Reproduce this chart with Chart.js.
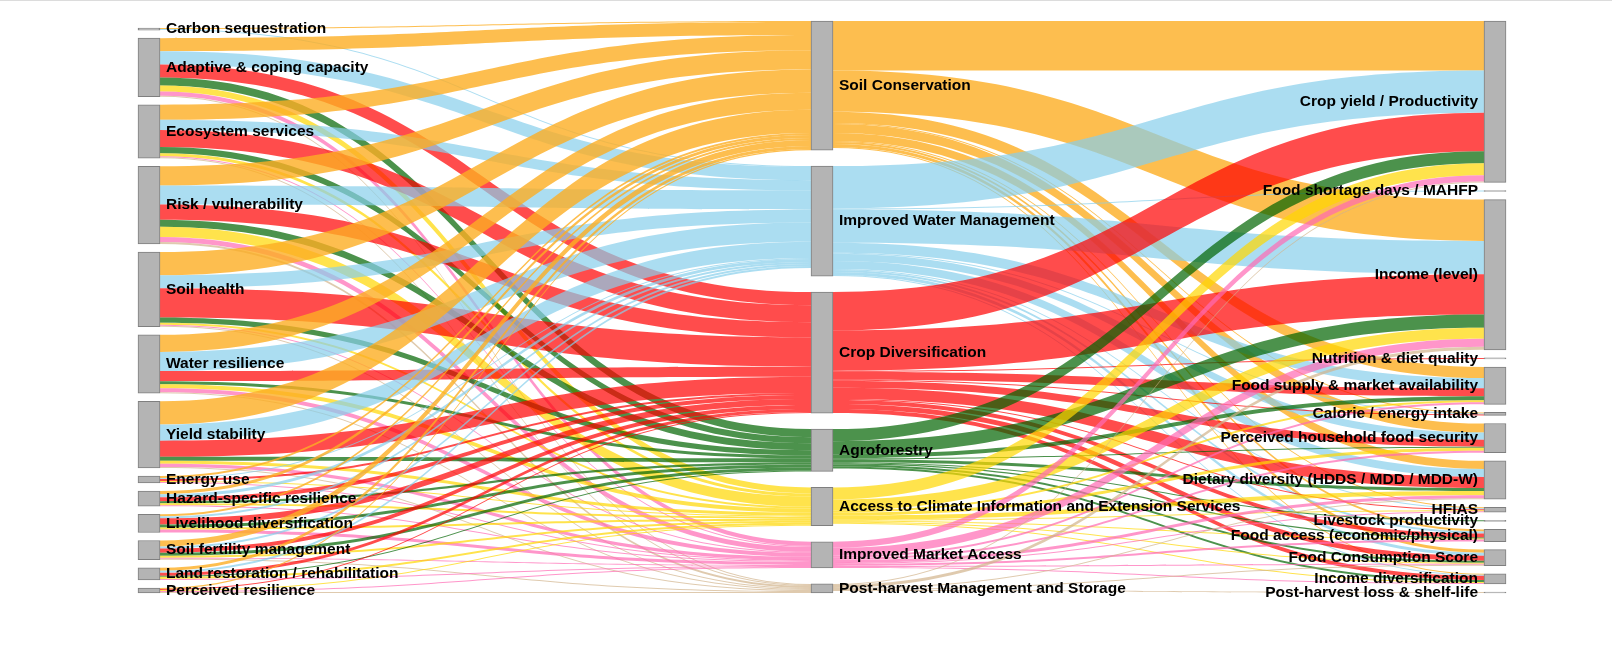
<!DOCTYPE html>
<html>
<head>
<meta charset="utf-8">
<script src="https://cdn.jsdelivr.net/npm/chart.js@4.4.1/dist/chart.umd.min.js"></script>
<style>
  html, body { margin: 0; padding: 0; background: #fff; overflow: hidden; }
  #wrap { position: relative; width: 1623px; height: 648px; }
  #topline { position: absolute; left: 0; top: 0; width: 1612px; height: 1px; background: #dcdcdc; }
</style>
</head>
<body>
<div id="wrap">
  <canvas id="sankey" width="1623" height="648"></canvas>
  <div id="topline"></div>
</div>
<script>
// colunas do diagrama
const resilienceOutcomes = [
  "Carbon sequestration", "Adaptive & coping capacity", "Ecosystem services",
  "Risk / vulnerability", "Soil health", "Water resilience", "Yield stability",
  "Energy use", "Hazard-specific resilience", "Livelihood diversification",
  "Soil fertility management", "Land restoration / rehabilitation", "Perceived resilience"
];
const practices = [
  "Soil Conservation", "Improved Water Management", "Crop Diversification", "Agroforestry",
  "Access to Climate Information and Extension Services", "Improved Market Access",
  "Post-harvest Management and Storage"
];
const foodOutcomes = [
  "Crop yield / Productivity", "Food shortage days / MAHFP", "Income (level)",
  "Nutrition & diet quality", "Food supply & market availability", "Calorie / energy intake",
  "Perceived household food security", "Dietary diversity (HDDS / MDD / MDD-W)", "HFIAS",
  "Livestock productivity", "Food access (economic/physical)", "Food Consumption Score",
  "Income diversification", "Post-harvest loss & shelf-life"
];

// cores por prática
const practiceColors = [
  "rgba(253,174,35,0.8)", "rgba(135,206,235,0.7)", "rgba(255,0,0,0.7)", "rgba(0,100,0,0.7)",
  "rgba(255,215,0,0.7)", "rgba(255,105,180,0.7)", "rgba(210,180,140,0.7)"
];

// resiliência -> prática  (SC, IWM, CD, AF, ACI, MA, PH)
const carbonSeq      = [1, 1, 0, 0, 0, 0, 0];
const adaptive       = [13, 13, 13, 8, 6, 4, 1];
const ecosystem      = [15, 10, 17, 6, 3, 1, 1];
const riskVuln       = [19, 19, 15, 7, 10, 5, 2];
const soilHealth     = [23, 13, 29, 5, 2, 1, 1];
const waterRes       = [17, 19, 10, 3, 4, 4, 1];
const yieldStab      = [23, 16, 16, 4, 3, 3, 1];
const energyUse      = [2, 1, 2, 0, 1, 1, 0];
const hazardRes      = [3, 3, 4, 2, 2, 1, 0];
const livelihoodDiv  = [2, 2, 6, 3, 2, 3, 0];
const soilFertility  = [6, 2, 4, 3, 2, 1, 1];
const landRestore    = [3, 2, 3, 1, 2, 1, 0];
const perceivedRes   = [1, 0, 1, 0, 1, 1, 1];
const resilienceToPractice = [carbonSeq, adaptive, ecosystem, riskVuln, soilHealth, waterRes,
  yieldStab, energyUse, hazardRes, livelihoodDiv, soilFertility, landRestore, perceivedRes];

// prática -> segurança alimentar (mesma ordem de foodOutcomes)
const fromSoilCons   = [49, 0, 41, 0, 11, 1, 9, 8, 1, 0, 2, 3, 1, 0];
const fromWater      = [42, 1, 33, 0, 10, 1, 7, 8, 1, 0, 2, 3, 1, 0];
const fromCropDiv    = [38, 0, 40, 1, 8, 1, 7, 11, 1, 0, 4, 5, 4, 0];
const fromAgroforest = [12, 0, 13, 0, 4, 0, 1, 3, 0, 1, 1, 2, 2, 0];
const fromClimateInf = [12, 0, 11, 0, 2, 0, 3, 4, 1, 0, 1, 1, 1, 0];
const fromMarket     = [6, 0, 8, 0, 2, 0, 2, 3, 1, 0, 2, 1, 1, 0];
const fromPostHarv   = [1, 0, 3, 0, 0, 0, 0, 1, 0, 0, 0, 1, 0, 1];
const practiceToFood = [fromSoilCons, fromWater, fromCropDiv, fromAgroforest,
  fromClimateInf, fromMarket, fromPostHarv];

// === MONTAGEM DO LAYOUT ===
const PAD = 8;      // espaço entre nós (em unidades de valor)
const NODE_W = 22;  // largura do nó em px
const columns = [resilienceOutcomes, practices, foodOutcomes];
const columnAlign = ["bottom", "justify", "bottom"]; // como sobra espaço em cada coluna

const links = [];
resilienceToPractice.forEach((row, i) => row.forEach((v, j) => {
  if (v > 0) links.push({ s: [0, i], t: [1, j], v, color: practiceColors[j] });
}));
practiceToFood.forEach((row, j) => row.forEach((v, k) => {
  if (v > 0) links.push({ s: [1, j], t: [2, k], v, color: practiceColors[j] });
}));

const flows = columns.map(c => c.map(() => ({ inn: 0, out: 0 })));
links.forEach(l => {
  flows[l.s[0]][l.s[1]].out += l.v;
  flows[l.t[0]][l.t[1]].inn += l.v;
});
const nodeValues = flows.map(c => c.map(n => Math.max(n.inn, n.out)));
const sum = a => a.reduce((x, y) => x + y, 0);
const span = Math.max(...nodeValues.map(c => sum(c) + (c.length - 1) * PAD));

// posição de cada nó
const nodes = nodeValues.map((c, ci) => {
  const free = span - sum(c);
  let gap = PAD, y = free - (c.length - 1) * PAD; // alinhado em baixo
  if (columnAlign[ci] === "justify") { gap = free / (c.length - 1); y = 0; }
  return c.map(v => { const n = { y0: y, y1: y + v }; y += v + gap; return n; });
});
const nodeOf = ref => nodes[ref[0]][ref[1]];

// ordena as ligações dentro de cada nó
columns.forEach((c, ci) => c.forEach((_, ni) => {
  const outs = links.filter(l => l.s[0] === ci && l.s[1] === ni)
    .sort((a, b) => nodeOf(a.t).y0 - nodeOf(b.t).y0);
  let y = nodes[ci][ni].y0;
  outs.forEach(l => { l.sy0 = y; y += l.v; l.sy1 = y; });
  const ins = links.filter(l => l.t[0] === ci && l.t[1] === ni)
    .sort((a, b) => nodeOf(a.s).y0 - nodeOf(b.s).y0);
  y = nodes[ci][ni].y0;
  ins.forEach(l => { l.ty0 = y; y += l.v; l.ty1 = y; });
}));

// barras flutuantes para os nós
const nodeBars = [];
nodes.forEach((c, ci) => c.forEach(n => nodeBars.push({ x: ci, y: [n.y0, n.y1] })));

// plugin que desenha os fluxos e os rótulos usando as escalas do gráfico
const sankeyPlugin = {
  id: "sankeyLinks",
  beforeDatasetsDraw(chart) {
    const { ctx, scales: { x, y } } = chart;
    ctx.save();
    links.forEach(l => {
      const x0 = x.getPixelForValue(l.s[0]) + NODE_W / 2;
      const x1 = x.getPixelForValue(l.t[0]) - NODE_W / 2;
      const xm = (x0 + x1) / 2;
      const s0 = y.getPixelForValue(l.sy0), s1 = y.getPixelForValue(l.sy1);
      const t0 = y.getPixelForValue(l.ty0), t1 = y.getPixelForValue(l.ty1);
      ctx.beginPath();
      ctx.moveTo(x0, s0);
      ctx.bezierCurveTo(xm, s0, xm, t0, x1, t0);
      ctx.lineTo(x1, t1);
      ctx.bezierCurveTo(xm, t1, xm, s1, x0, s1);
      ctx.closePath();
      ctx.fillStyle = l.color;
      ctx.fill();
    });
    ctx.restore();
  },
  afterDatasetsDraw(chart) {
    const { ctx, scales: { x, y } } = chart;
    ctx.save();
    ctx.font = 'bold 15.5px "Liberation Sans", Arial, sans-serif';
    ctx.fillStyle = "#000";
    ctx.textBaseline = "middle";
    columns.forEach((c, ci) => c.forEach((label, ni) => {
      const n = nodes[ci][ni];
      const cy = y.getPixelForValue((n.y0 + n.y1) / 2);
      const px = x.getPixelForValue(ci);
      if (ci === columns.length - 1) {
        ctx.textAlign = "right";
        ctx.fillText(label, px - NODE_W / 2 - 6, cy);
      } else {
        ctx.textAlign = "left";
        ctx.fillText(label, px + NODE_W / 2 + 6, cy);
      }
    }));
    ctx.restore();
  }
};

new Chart(document.getElementById("sankey"), {
  type: "bar",
  data: {
    datasets: [{
      data: nodeBars,
      backgroundColor: "#b4b4b4",
      borderColor: "#7f7f7f",
      borderWidth: 1,
      borderSkipped: false,
      barThickness: NODE_W,
      clip: false
    }]
  },
  options: {
    responsive: false,
    animation: false,
    layout: { padding: { left: 149, right: 128, top: 21, bottom: 55 } },
    scales: {
      x: { type: "linear", min: 0, max: 2, offset: false, display: false },
      y: { min: 0, max: span, reverse: true, display: false }
    },
    plugins: { legend: { display: false }, tooltip: { enabled: false } },
    events: []
  },
  plugins: [sankeyPlugin]
});
</script>
</body>
</html>
